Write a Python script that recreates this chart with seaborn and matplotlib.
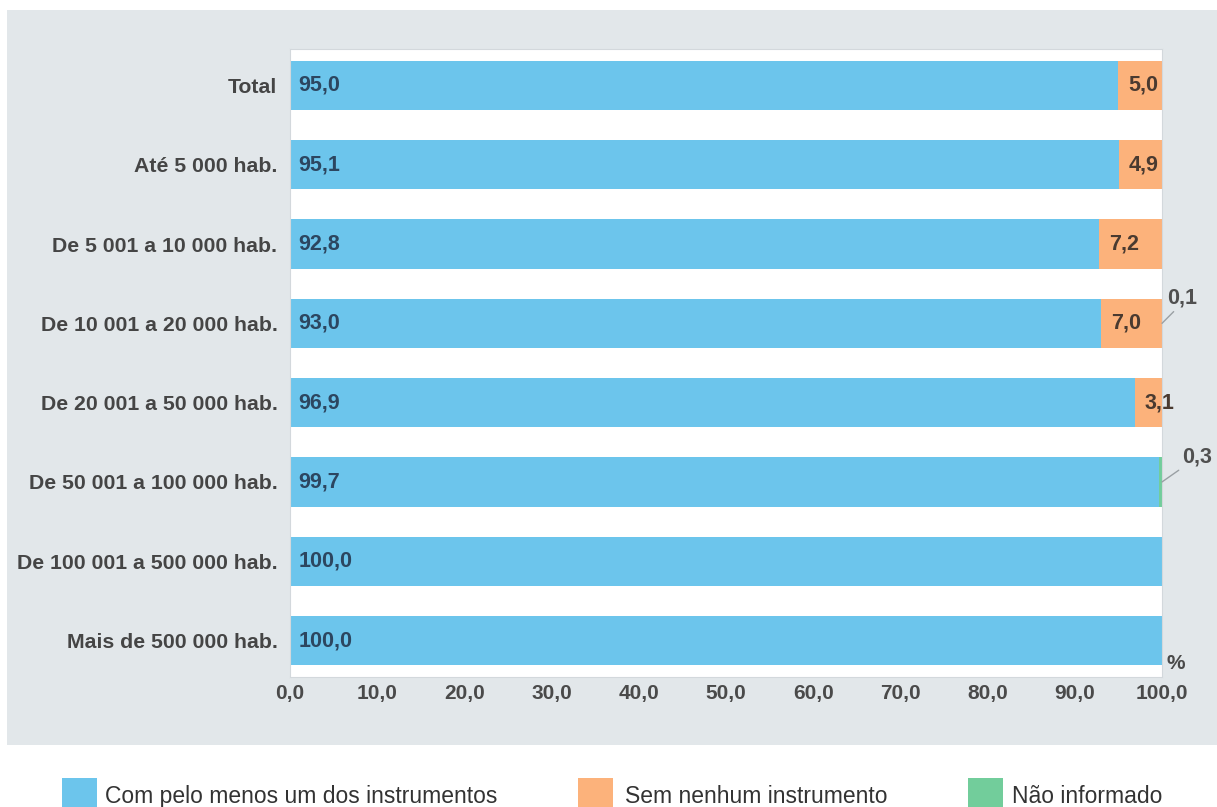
import matplotlib
matplotlib.use("Agg")
import matplotlib.pyplot as plt
import seaborn as sns
import pandas as pd
from matplotlib.patches import Rectangle

# ---------------- data ----------------
categories = [
    "Total",
    "Até 5 000 hab.",
    "De 5 001 a 10 000 hab.",
    "De 10 001 a 20 000 hab.",
    "De 20 001 a 50 000 hab.",
    "De 50 001 a 100 000 hab.",
    "De 100 001 a 500 000 hab.",
    "Mais de 500 000 hab.",
]
com_instrumento = [95.0, 95.1, 92.8, 93.0, 96.9, 99.7, 100.0, 100.0]
sem_instrumento = [5.0, 4.9, 7.2, 7.0, 3.1, 0.0, 0.0, 0.0]
nao_informado = [0.0, 0.0, 0.0, 0.1, 0.0, 0.3, 0.0, 0.0]
series_names = ["Com pelo menos um dos instrumentos", "Sem nenhum instrumento", "Não informado"]
xticks = [0, 10, 20, 30, 40, 50, 60, 70, 80, 90, 100]

# ---------------- style ----------------
BLUE = "#6cc5ec"
ORANGE = "#fcb27b"
GREEN = "#72cd9b"
BG = "#e2e7ea"
colors = [BLUE, ORANGE, GREEN]

sns.set_theme(style="white")
plt.rcParams["font.family"] = ["Liberation Sans", "DejaVu Sans"]

W, H = 1217, 807
fig = plt.figure(figsize=(W / 100, H / 100), dpi=100)
fig.patch.set_facecolor("white")
fig.patches.append(Rectangle((7 / W, 1 - 745 / H), 1 - 7 / W, (745 - 10) / H,
                             transform=fig.transFigure, facecolor=BG,
                             edgecolor="none", zorder=-10))

ax = fig.add_axes([290 / W, 1 - 677 / H, 872 / W, 628 / H])
ax.set_zorder(5)
ax.set_facecolor("white")

df = pd.DataFrame({"cat": categories, "com": com_instrumento,
                   "sem": sem_instrumento, "nao": nao_informado})
df["c1"] = df["com"]
df["c2"] = df["com"] + df["sem"]
df["c3"] = df["c2"] + df["nao"]

for col, c in (("c3", GREEN), ("c2", ORANGE), ("c1", BLUE)):
    sns.barplot(data=df, y="cat", x=col, color=c, saturation=1, width=0.62,
                orient="h", linewidth=0, ax=ax, errorbar=None)

ax.set_xlim(0, 100)
ax.set_ylim(7.46, -0.46)
ax.set_xlabel("")
ax.set_ylabel("")
ax.set_xticks(xticks)
ax.set_xticklabels([f"{v:.1f}".replace(".", ",") for v in xticks])
ax.tick_params(axis="both", length=0)
ax.tick_params(axis="x", pad=5, labelsize=15, labelcolor="#4a4a4a")
ax.tick_params(axis="y", pad=9, labelsize=15.3, labelcolor="#454545")
for lab in ax.get_yticklabels() + ax.get_xticklabels():
    lab.set_fontweight("bold")
for sp in ax.spines.values():
    sp.set_color("#d3d8dc")
    sp.set_linewidth(0.8)

fmt = lambda v: f"{v:.1f}".replace(".", ",")
VAL_COLOR = "#2c4660"
for i, row in df.iterrows():
    ax.annotate(fmt(row["com"]), (0, i), xytext=(6, 0), textcoords="offset points",
                ha="left", va="center", fontsize=15.5, fontweight="bold", color=VAL_COLOR)
    if row["sem"] > 0:
        ax.annotate(fmt(row["sem"]), (row["c1"], i), xytext=(7, 0), textcoords="offset points",
                    ha="left", va="center", fontsize=15.5, fontweight="bold", color="#4a3a30")
    if row["nao"] > 0:
        off = (5, 15) if row["nao"] < 0.2 else (20, 14)
        rel = (0.4, 0.1) if row["nao"] < 0.2 else (0.1, 0.1)
        ax.annotate(fmt(row["nao"]), (min(row["c3"], 100), i), xytext=off,
                    textcoords="offset pixels", ha="left", va="bottom",
                    fontsize=15.5, fontweight="bold", color="#505050",
                    annotation_clip=False,
                    arrowprops=dict(arrowstyle="-", color="#9aa0a4", lw=1,
                                    relpos=rel, shrinkA=0, shrinkB=0))

ax.text(1.016, 0.022, "%", transform=ax.transAxes, ha="center", va="center",
        fontsize=15, fontweight="bold", color="#4a4a4a")

# ---------------- legend ----------------
leg_sq_x = [62, 578, 968]
leg_txt_x = [105, 625, 1012]
for name, c, sx, tx in zip(series_names, colors, leg_sq_x, leg_txt_x):
    fig.patches.append(Rectangle((sx / W, 1 - 813 / H), 35 / W, 35 / H,
                                 transform=fig.transFigure, facecolor=c,
                                 edgecolor="none", zorder=1))
    fig.text(tx / W, 1 - 803 / H, name, ha="left", va="baseline",
             fontsize=16.5, color="#333333")

fig.savefig("out.png", dpi=100, facecolor="white")
